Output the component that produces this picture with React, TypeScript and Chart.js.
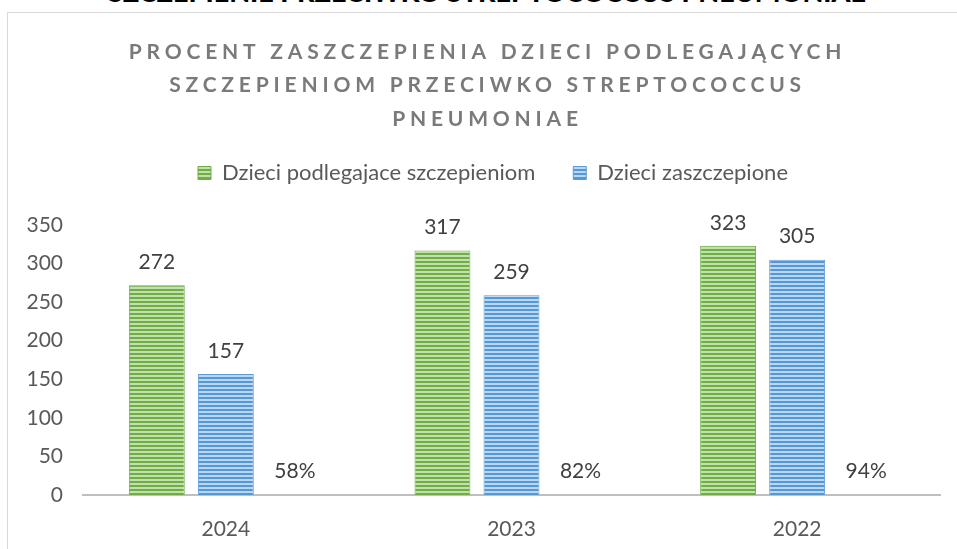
import React, { useEffect, useRef } from 'react';
import { Chart, registerables } from 'chart.js';

Chart.register(...registerables);

const FONT = "Lato, 'Open Sans', sans-serif";

const headerText = 'SZCZEPIENIE PRZECIWKO STREPTOCOCCUS PNEUMONIAE';
const titleLines = [
  'PROCENT ZASZCZEPIENIA DZIECI PODLEGAJĄCYCH',
  'SZCZEPIENIOM PRZECIWKO STREPTOCOCCUS',
  'PNEUMONIAE',
];
const categories = ['2024', '2023', '2022'];
const seriesNames = ['Dzieci podlegajace szczepieniom', 'Dzieci zaszczepione'];
const eligibleChildren = [272, 317, 323];
const vaccinatedChildren = [157, 259, 305];
const percentValues = [0.58, 0.82, 0.94];
const percentLabels = ['58%', '82%', '94%'];
const yMin = 0;
const yMax = 350;
const yStep = 50;

function stripes(dark: string, light: string): CanvasPattern | string {
  const c = document.createElement('canvas');
  c.width = 4;
  c.height = 4;
  const x = c.getContext('2d');
  if (!x) return dark;
  x.fillStyle = light;
  x.fillRect(0, 0, 4, 4);
  x.fillStyle = dark;
  x.fillRect(0, 0, 4, 2);
  return x.createPattern(c, 'repeat') || dark;
}

const titlePlugin = {
  id: 'spacedTitle',
  afterDraw(chart: any) {
    const ctx = chart.ctx;
    ctx.save();
    ctx.font = `700 21px ${FONT}`;
    ctx.fillStyle = '#7a7a7a';
    ctx.textAlign = 'center';
    ctx.textBaseline = 'middle';
    (ctx as any).letterSpacing = '4.8px';
    const cx = chart.width / 2 + 5;
    titleLines.forEach((line, i) => {
      ctx.fillText(line, cx, 39 + i * 33.5);
    });
    ctx.restore();
  },
};

const legendGap = {
  id: 'legendGap',
  afterInit(chart: any) {
    const legend: any = chart.legend;
    if (!legend) return;
    const fit = legend.fit.bind(legend);
    legend.fit = () => {
      fit();
      legend.height += 31;
    };
    const draw = legend.draw.bind(legend);
    legend.draw = () => {
      chart.ctx.save();
      chart.ctx.translate(14, 0);
      draw();
      chart.ctx.restore();
    };
  },
};

const valueLabels = {
  id: 'valueLabels',
  afterDatasetsDraw(chart: any) {
    const ctx = chart.ctx;
    ctx.save();
    ctx.font = `21px ${FONT}`;
    ctx.fillStyle = '#404040';
    ctx.textAlign = 'center';
    ctx.textBaseline = 'middle';
    chart.data.datasets.forEach((ds: any, di: number) => {
      const meta = chart.getDatasetMeta(di);
      meta.data.forEach((el: any, i: number) => {
        const text = di === 2 ? percentLabels[i] : String(ds.data[i]);
        ctx.fillText(text, el.x, el.y - 23);
      });
    });
    ctx.restore();
  },
};

export default function App() {
  const ref = useRef<HTMLCanvasElement | null>(null);

  useEffect(() => {
    if (!ref.current) return;
    const green = stripes('#6fae44', '#c2e0ad');
    const blue = stripes('#5598d6', '#bcd6ef');
    const chart = new Chart(ref.current, {
      type: 'bar',
      data: {
        labels: categories,
        datasets: [
          {
            label: seriesNames[0],
            data: eligibleChildren,
            backgroundColor: green as any,
            borderColor: '#70ad47',
            borderWidth: 1,
          },
          {
            label: seriesNames[1],
            data: vaccinatedChildren,
            backgroundColor: blue as any,
            borderColor: '#5b9bd5',
            borderWidth: 1,
          },
          {
            label: 'Procent',
            data: percentValues,
            backgroundColor: 'rgba(0,0,0,0)',
            borderWidth: 0,
          },
        ],
      },
      options: {
        responsive: false,
        animation: false,
        events: [],
        datasets: {
          bar: { categoryPercentage: 0.725, barPercentage: 0.81 },
        },
        layout: { padding: { top: 111, left: 10, right: 17, bottom: 10 } },
        plugins: {
          title: { display: false },
          tooltip: { enabled: false },
          legend: {
            display: true,
            position: 'top',
            labels: {
              boxWidth: 13,
              boxHeight: 13,
              padding: 38,
              color: '#595959',
              font: { family: FONT, size: 22 },
              filter: (item: any) => item.datasetIndex < 2,
            },
          },
        },
        scales: {
          x: {
            grid: { display: false, drawTicks: false },
            border: { display: true, color: '#bfbfbf', width: 2 },
            ticks: { color: '#595959', font: { family: FONT, size: 21 }, padding: 22 },
            afterFit: (s: any) => {
              s.height = 44;
            },
          },
          y: {
            min: yMin,
            max: yMax,
            grid: { display: false, drawTicks: false },
            border: { display: false },
            ticks: { stepSize: yStep, color: '#595959', font: { family: FONT, size: 21 }, padding: 20 },
            afterFit: (s: any) => {
              s.width = 65;
            },
          },
        },
      },
      plugins: [titlePlugin, legendGap, valueLabels],
    });
    return () => chart.destroy();
  }, []);

  return (
    <div
      style={{
        position: 'fixed',
        left: 0,
        top: 0,
        width: 957,
        height: 549,
        overflow: 'hidden',
        background: '#ffffff',
      }}
    >
      <div
        style={{
          position: 'absolute',
          left: 0,
          top: -22,
          width: 974,
          textAlign: 'center',
          fontFamily: FONT,
          fontWeight: 900,
          fontSize: 27,
          lineHeight: '27px',
          color: '#000000',
          whiteSpace: 'nowrap',
        }}
      >
        {headerText}
      </div>
      <div
        style={{
          position: 'absolute',
          left: 7,
          top: 12,
          width: 980,
          height: 580,
          border: '1px solid #d9d9d9',
          boxSizing: 'border-box',
        }}
      />
      <canvas
        ref={ref}
        width={949}
        height={536}
        style={{ position: 'absolute', left: 8, top: 13, width: 949, height: 536 }}
      />
    </div>
  );
}
